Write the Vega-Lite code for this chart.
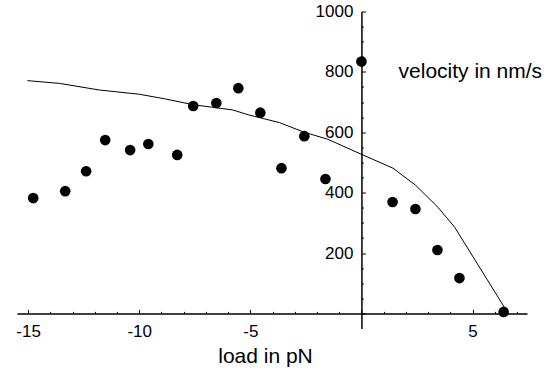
{
  "$schema": "https://vega.github.io/schema/vega-lite/v6.json",
  "width": 510,
  "height": 317,
  "autosize": "none",
  "padding": {"left": 17, "top": 11.5, "right": 22, "bottom": 42.5},
  "background": "white",
  "config": {
    "view": {"stroke": null},
    "axis": {
      "grid": false,
      "domainColor": "black",
      "tickColor": "black",
      "labelColor": "black",
      "titleColor": "black",
      "labelFont": "Liberation Sans",
      "titleFont": "Liberation Sans",
      "titleFontWeight": "normal",
      "labelFlush": false,
      "labelOverlap": false
    }
  },
  "datasets": {
    "obs": [
      {"load": -14.77, "velocity": 382},
      {"load": -13.33, "velocity": 405},
      {"load": -12.39, "velocity": 471},
      {"load": -11.53, "velocity": 574},
      {"load": -10.41, "velocity": 541},
      {"load": -9.59, "velocity": 561},
      {"load": -8.29, "velocity": 525},
      {"load": -7.57, "velocity": 687},
      {"load": -6.53, "velocity": 697},
      {"load": -5.54, "velocity": 746},
      {"load": -4.55, "velocity": 665},
      {"load": -3.6, "velocity": 481},
      {"load": -2.57, "velocity": 587},
      {"load": -1.62, "velocity": 445},
      {"load": 0, "velocity": 834},
      {"load": 1.4, "velocity": 369},
      {"load": 2.43, "velocity": 346},
      {"load": 3.42, "velocity": 210},
      {"load": 4.41, "velocity": 117},
      {"load": 6.4, "velocity": 5}
    ],
    "fit": [
      {"load": -15.03, "velocity": 771},
      {"load": -13.6, "velocity": 762},
      {"load": -11.8, "velocity": 740},
      {"load": -10.0, "velocity": 726},
      {"load": -8.8, "velocity": 710},
      {"load": -7.55, "velocity": 691},
      {"load": -5.8, "velocity": 674},
      {"load": -5.05, "velocity": 657},
      {"load": -3.69, "velocity": 632},
      {"load": -2.57, "velocity": 600},
      {"load": -1.52, "velocity": 577},
      {"load": 0, "velocity": 527},
      {"load": 1.42, "velocity": 481},
      {"load": 2.43, "velocity": 425},
      {"load": 3.45, "velocity": 351},
      {"load": 4.2, "velocity": 285},
      {"load": 6.4, "velocity": 24},
      {"load": 6.48, "velocity": 0}
    ]
  },
  "layer": [
    {
      "data": {"name": "fit"},
      "mark": {"type": "line", "color": "black", "strokeWidth": 1},
      "encoding": {
        "x": {
          "field": "load", "type": "quantitative",
          "scale": {"domain": [-15.5, 7.45], "nice": false, "zero": false},
          "axis": {
            "orient": "bottom",
            "offset": {"expr": "scale('y', 0) - height"},
            "values": [-14, -13, -12, -11, -9, -8, -7, -6, -4, -3, -2, -1, 1, 2, 3, 4, 6, 7],
            "tickSize": -2,
            "tickWidth": 1,
            "labels": false,
            "domain": false,
            "title": null
          }
        },
        "y": {
          "field": "velocity", "type": "quantitative",
          "scale": {"domain": [-50, 1000], "nice": false, "zero": false},
          "axis": {
            "orient": "left",
            "offset": {"expr": "-scale('x', 0)"},
            "values": [50, 100, 150, 250, 300, 350, 450, 500, 550, 650, 700, 750, 850, 900, 950],
            "tickSize": -2,
            "tickWidth": 1,
            "labels": false,
            "domain": false,
            "title": null
          }
        }
      }
    },
    {
      "data": {"name": "obs"},
      "mark": {"type": "circle", "color": "black", "size": 113, "opacity": 1},
      "encoding": {
        "x": {
          "field": "load", "type": "quantitative",
          "axis": {
            "orient": "bottom",
            "offset": {"expr": "scale('y', 0) - height"},
            "values": [-15, -10, -5, 0, 5],
            "tickSize": -4,
            "tickWidth": 1,
            "domainWidth": 1.5,
            "labelExpr": "datum.value === 0 ? '' : '' + datum.value",
            "labelFontSize": 17,
            "labelPadding": 14,
            "title": "load in pN",
            "titleFontSize": 21,
            "titleX": 248,
            "titleY": 49.4,
            "titleAlign": "center",
            "titleBaseline": "alphabetic"
          }
        },
        "y": {
          "field": "velocity", "type": "quantitative",
          "axis": {
            "orient": "left",
            "offset": {"expr": "-scale('x', 0)"},
            "values": [0, 200, 400, 600, 800, 1000],
            "tickSize": -4,
            "tickWidth": 1,
            "domainWidth": 1.5,
            "labelExpr": "datum.value === 0 ? '' : '' + datum.value",
            "labelFontSize": 17,
            "labelPadding": 12.5,
            "title": "velocity in nm/s",
            "titleFontSize": 21,
            "titleAngle": 0,
            "titleX": 36.6,
            "titleY": 65.8,
            "titleAlign": "left",
            "titleBaseline": "alphabetic"
          }
        }
      }
    }
  ],
  "resolve": {"axis": {"x": "independent", "y": "independent"}}
}
